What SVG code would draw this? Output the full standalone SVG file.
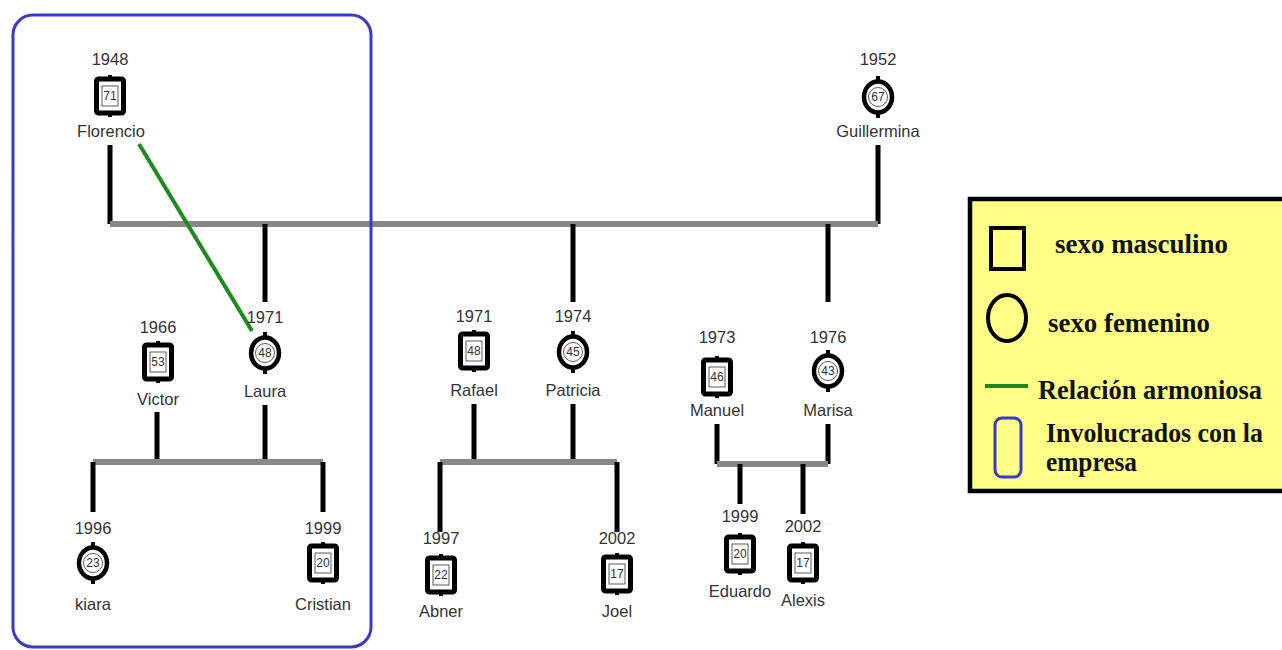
<svg xmlns="http://www.w3.org/2000/svg" width="1282" height="650" viewBox="0 0 1282 650">
<defs>
<style>
.lbl{font-family:"Liberation Sans",Arial,sans-serif;font-size:16.5px;fill:#333;text-anchor:middle}
.age{font-family:"Liberation Sans",Arial,sans-serif;font-size:12px;fill:#333;text-anchor:middle}
.sq{fill:#fff;stroke:#000;stroke-width:5}
.ci{fill:#fff;stroke:#000;stroke-width:4.5}
.in{fill:#fff;stroke:#333;stroke-width:0.8}
.tick{fill:#000}
.blk{stroke:#000;stroke-width:5;fill:none}
.gry{stroke:#888;stroke-width:6;fill:none}
.leg{font-family:"Liberation Serif","Times New Roman",serif;font-weight:bold;font-size:27px;fill:#111}
</style>
<g id="male">
<rect class="tick" x="-2" y="-21" width="4" height="4"/>
<rect class="tick" x="-2" y="17" width="4" height="4"/>
<rect class="sq" x="-13.5" y="-17" width="27" height="34" rx="2"/>
<rect class="in" x="-8" y="-10" width="16" height="20"/>
</g>
<g id="female">
<rect class="tick" x="-2" y="-21" width="4" height="4"/>
<rect class="tick" x="-2" y="17" width="4" height="4"/>
<ellipse class="ci" cx="0" cy="0" rx="14" ry="15.5"/>
<circle class="in" cx="0" cy="0" r="9.5"/>
</g>
</defs>
<rect width="1282" height="650" fill="#fff"/>

<g id="connectors">
<path class="blk" d="M110 145V224M878 145V224"/>
<path class="gry" d="M110 224H878"/>
<path class="blk" d="M265 224V302M573 224V302M828 224V302"/>
<path class="blk" d="M157 412V462M265 405V462"/>
<path class="gry" d="M93 462H323"/>
<path class="blk" d="M93 462V512M323 462V512"/>
<path class="blk" d="M474 404V462M573 404V462"/>
<path class="gry" d="M440 462H617"/>
<path class="blk" d="M440 462V532M617 462V532"/>
<path class="blk" d="M717 424V464M828 424V464"/>
<path class="gry" d="M717 464H828"/>
<path class="blk" d="M740 464V504M803 464V514"/>
<path d="M139 144L252 331" stroke="#1d8a1d" stroke-width="4" fill="none"/>
</g>

<g id="n-florencio"><text class="lbl" x="110" y="65">1948</text><use href="#male" x="110" y="96"/><text class="age" x="110" y="100">71</text><text class="lbl" x="111" y="137">Florencio</text></g>
<g id="n-guillermina"><text class="lbl" x="878" y="65">1952</text><use href="#female" x="878" y="97"/><text class="age" x="878" y="101">67</text><text class="lbl" x="878" y="137">Guillermina</text></g>
<g id="n-victor"><text class="lbl" x="158" y="333">1966</text><use href="#male" x="158" y="362"/><text class="age" x="158" y="366">53</text><text class="lbl" x="158" y="405">Victor</text></g>
<g id="n-laura"><text class="lbl" x="265" y="323">1971</text><use href="#female" x="265" y="353"/><text class="age" x="265" y="357">48</text><text class="lbl" x="265" y="397">Laura</text></g>
<g id="n-kiara"><text class="lbl" x="93" y="534">1996</text><use href="#female" x="93" y="563"/><text class="age" x="93" y="567">23</text><text class="lbl" x="93" y="610">kiara</text></g>
<g id="n-cristian"><text class="lbl" x="323" y="534">1999</text><use href="#male" x="323" y="563"/><text class="age" x="323" y="567">20</text><text class="lbl" x="323" y="610">Cristian</text></g>
<g id="n-rafael"><text class="lbl" x="474" y="322">1971</text><use href="#male" x="474" y="351"/><text class="age" x="474" y="355">48</text><text class="lbl" x="474" y="396">Rafael</text></g>
<g id="n-patricia"><text class="lbl" x="573" y="322">1974</text><use href="#female" x="573" y="352"/><text class="age" x="573" y="356">45</text><text class="lbl" x="573" y="396">Patricia</text></g>
<g id="n-abner"><text class="lbl" x="441" y="544">1997</text><use href="#male" x="441" y="575"/><text class="age" x="441" y="579">22</text><text class="lbl" x="441" y="617">Abner</text></g>
<g id="n-joel"><text class="lbl" x="617" y="544">2002</text><use href="#male" x="617" y="574"/><text class="age" x="617" y="578">17</text><text class="lbl" x="617" y="617">Joel</text></g>
<g id="n-manuel"><text class="lbl" x="717" y="343">1973</text><use href="#male" x="717" y="377"/><text class="age" x="717" y="381">46</text><text class="lbl" x="717" y="416">Manuel</text></g>
<g id="n-marisa"><text class="lbl" x="828" y="343">1976</text><use href="#female" x="828" y="371"/><text class="age" x="828" y="375">43</text><text class="lbl" x="828" y="416">Marisa</text></g>
<g id="n-eduardo"><text class="lbl" x="740" y="522">1999</text><use href="#male" x="740" y="554"/><text class="age" x="740" y="558">20</text><text class="lbl" x="740" y="597">Eduardo</text></g>
<g id="n-alexis"><text class="lbl" x="803" y="532">2002</text><use href="#male" x="803" y="563"/><text class="age" x="803" y="567">17</text><text class="lbl" x="803" y="606">Alexis</text></g>

<g id="empresa-group">
<rect x="13" y="15" width="358" height="632" rx="20" fill="none" stroke="#3a3ac4" stroke-width="3"/>
</g>

<g id="legend">
<rect x="970" y="199" width="316" height="292" fill="#ffff88" stroke="#000" stroke-width="4.5"/>
<rect x="991" y="228" width="33" height="41" fill="none" stroke="#000" stroke-width="4"/>
<text class="leg" x="1055" y="253" textLength="173" lengthAdjust="spacingAndGlyphs">sexo masculino</text>
<ellipse cx="1007" cy="318" rx="19" ry="23" fill="none" stroke="#000" stroke-width="4"/>
<text class="leg" x="1048" y="332" textLength="162" lengthAdjust="spacingAndGlyphs">sexo femenino</text>
<path d="M985 386H1028" stroke="#1d8a1d" stroke-width="4"/>
<text class="leg" x="1038" y="399" textLength="224" lengthAdjust="spacingAndGlyphs">Relación armoniosa</text>
<rect x="995" y="418" width="26" height="59" rx="7" fill="none" stroke="#3a3ac4" stroke-width="3"/>
<text class="leg" x="1046" y="442" textLength="217" lengthAdjust="spacingAndGlyphs">Involucrados con la</text>
<text class="leg" x="1046" y="471" textLength="91" lengthAdjust="spacingAndGlyphs">empresa</text>
</g>
</svg>
